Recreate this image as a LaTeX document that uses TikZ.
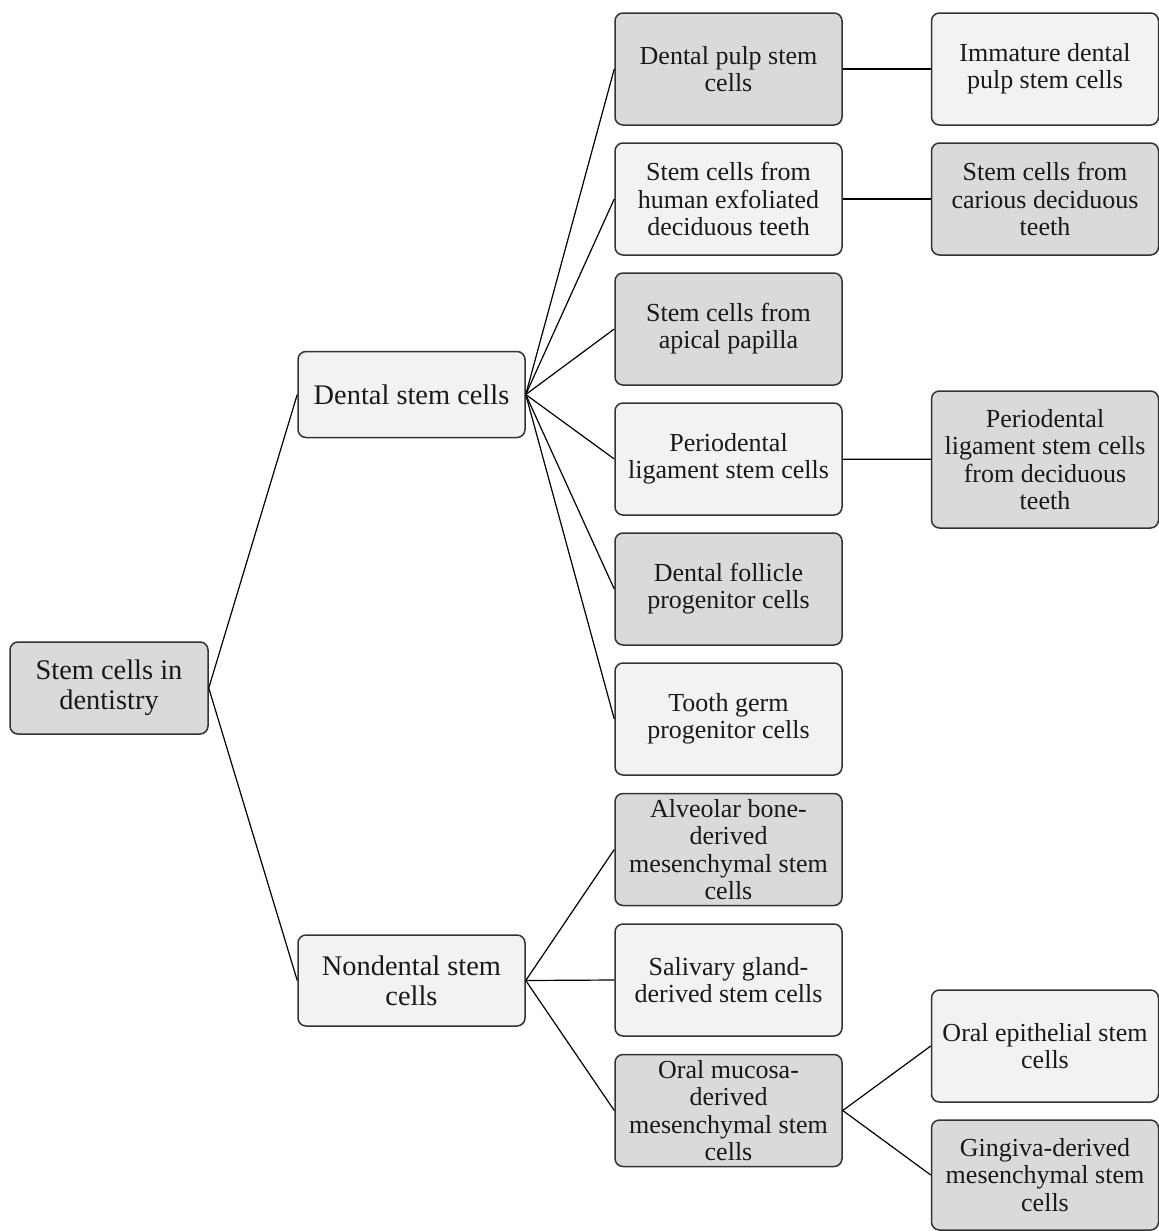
\documentclass[tikz,border=0pt]{standalone}
\usepackage{fontspec}
\setmainfont{Liberation Serif}
\usetikzlibrary{positioning}
\definecolor{boxdark}{HTML}{D9DADC}
\definecolor{boxlight}{HTML}{F2F2F2}
\definecolor{boxline}{HTML}{333333}
\begin{document}
\begin{tikzpicture}[x=0.5pt, y=-0.5pt, line width=0.6pt,
    cell/.style={draw=boxline, line width=0.75pt, rounded corners=4pt, align=center, inner sep=2pt,
      text=black!90, font=\fontsize{13}{13.6}\selectfont, minimum width=113.5pt, minimum height=56pt},
    big/.style={font=\fontsize{14.2}{15}\selectfont, minimum height=43pt},
    dark/.style={cell, fill=boxdark},
    light/.style={cell, fill=boxlight}]
  \useasboundingbox (0,0) rectangle (1158,1231);
  % root and first level
  \node[dark, big, minimum width=99pt, minimum height=46pt] (root) at (109,688) {Stem cells in\\dentistry};
  \node[light, big] (dental) at (411.5,394.5) {Dental stem cells};
  \node[light, big, minimum height=45.5pt] (nondental) at (411.5,980.5) {Nondental stem\\cells};
  % second level
  \node[dark] (dpsc) at (728.5,69) {Dental pulp stem\\cells};
  \node[light] (shed) at (728.5,199) {Stem cells from\\human exfoliated\\deciduous teeth};
  \node[dark] (scap) at (728.5,329) {Stem cells from\\apical papilla};
  \node[light] (pdlsc) at (728.5,459) {Periodental\\ligament stem cells};
  \node[dark] (dfpc) at (728.5,589) {Dental follicle\\progenitor cells};
  \node[light] (tgpc) at (728.5,719) {Tooth germ\\progenitor cells};
  \node[dark] (abmsc) at (728.5,849.5) {Alveolar bone-\\derived\\mesenchymal stem\\cells};
  \node[light] (sgsc) at (728.5,980) {Salivary gland-\\derived stem cells};
  \node[dark] (omsc) at (728.5,1110.5) {Oral mucosa-\\derived\\mesenchymal stem\\cells};
  % third level
  \node[light] (idpsc) at (1045,69) {Immature dental\\pulp stem cells};
  \node[dark] (scdt) at (1045,199) {Stem cells from\\carious deciduous\\teeth};
  \node[dark, minimum height=68.5pt] (pdlsd) at (1045,459.5) {Periodental\\ligament stem cells\\from deciduous\\teeth};
  \node[light] (oesc) at (1045,1046) {Oral epithelial stem\\cells};
  \node[dark, minimum height=55pt] (gmsc) at (1045,1175) {Gingiva-derived\\mesenchymal stem\\cells};
  % connectors
  \draw (root.east) -- (dental.west);
  \draw (root.east) -- (nondental.west);
  \foreach \n in {dpsc,shed,scap,pdlsc,dfpc,tgpc}
    \draw (dental.east) -- (\n.west);
  \foreach \n in {abmsc,sgsc,omsc}
    \draw (nondental.east) -- (\n.west);
  \draw (dpsc) -- (idpsc);
  \draw (shed) -- (scdt);
  \draw (pdlsc) -- (pdlsd);
  \draw (omsc.east) -- (oesc.west);
  \draw (omsc.east) -- (gmsc.west);
\end{tikzpicture}
\end{document}
